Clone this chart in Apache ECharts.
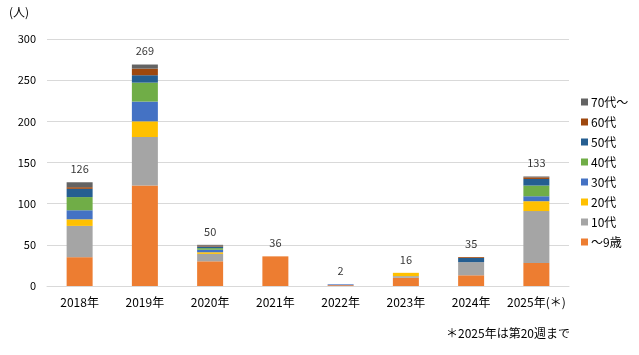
<!DOCTYPE html>
<html>
<head>
<meta charset="utf-8">
<script src="https://cdn.jsdelivr.net/npm/echarts@6/dist/echarts.min.js"></script>
<style>
html,body{margin:0;padding:0;background:#fff;}
#chart{width:639px;height:355px;}
</style>
</head>
<body>
<div id="chart"></div>
<script>
const categories = ['2018年','2019年','2020年','2021年','2022年','2023年','2024年','2025年(＊)'];
const seriesNames = ['～9歳','10代','20代','30代','40代','50代','60代','70代～'];
const age0to9 = [35, 122, 30, 36, 1, 10, 13, 28];
const age10s  = [38, 59, 9, 0, 0, 2, 16, 63];
const age20s  = [8, 19, 2, 0, 0, 4, 0, 12];
const age30s  = [11, 24, 3, 0, 1, 0, 0, 6];
const age40s  = [16, 23, 2, 0, 0, 0, 0, 13];
const age50s  = [10, 9, 2, 0, 0, 0, 5, 8];
const age60s  = [2, 8, 1, 0, 0, 0, 1, 2];
const age70up = [6, 5, 1, 0, 0, 0, 0, 1];
const totals  = [126, 269, 50, 36, 2, 16, 35, 133];
const yTicks = [0, 50, 100, 150, 200, 250, 300];

const colors = ['#ED7D31','#A5A5A5','#FFC000','#4472C4','#70AD47','#255E91','#9E480E','#636363'];
const dataArrays = [age0to9, age10s, age20s, age30s, age40s, age50s, age60s, age70up];
const FONT = '"Noto Sans CJK JP", "Noto Sans", sans-serif';

const chart = echarts.init(document.getElementById('chart'));
const series = dataArrays.map((arr, i) => ({
  name: seriesNames[i],
  type: 'bar',
  stack: 'total',
  barWidth: 26,
  itemStyle: { color: colors[i] },
  data: arr
}));
series.push({
  name: '合計',
  type: 'scatter',
  symbolSize: 0,
  data: totals,
  silent: true,
  label: {
    show: true,
    position: 'top',
    distance: 8,
    color: '#000',
    fontSize: 11,
    fontFamily: FONT,
    formatter: p => p.value
  }
});

chart.setOption({
  animation: false,
  textStyle: { fontFamily: FONT },
  grid: { left: 47, right: 70, top: 39, bottom: 69 },
  legend: {
    orient: 'vertical',
    left: 576,
    top: 91,
    itemWidth: 7,
    itemHeight: 7,
    itemGap: 8,
    icon: 'rect',
    data: seriesNames.slice().reverse(),
    textStyle: { fontSize: 12, color: '#000', fontFamily: FONT, padding: [0,0,0,-2] }
  },
  xAxis: {
    type: 'category',
    data: categories,
    axisLine: { lineStyle: { color: '#D9D9D9', width: 1 } },
    axisTick: { show: false },
    axisLabel: { color: '#000', fontSize: 12, margin: 10, interval: 0, fontFamily: FONT }
  },
  yAxis: {
    type: 'value',
    min: yTicks[0],
    max: yTicks[yTicks.length - 1],
    interval: 50,
    axisLine: { show: false },
    axisTick: { show: false },
    splitLine: { lineStyle: { color: '#D9D9D9', width: 1 } },
    axisLabel: { color: '#000', fontSize: 11, margin: 11, fontFamily: FONT }
  },
  graphic: [
    { type: 'text', left: 9, top: 6, style: { text: '(人)', fontSize: 12, fill: '#000', fontFamily: FONT } },
    { type: 'text', left: 446, top: 327, style: { text: '＊2025年は第20週まで', fontSize: 12, fill: '#000', fontFamily: FONT } }
  ],
  series: series
});
</script>
</body>
</html>
